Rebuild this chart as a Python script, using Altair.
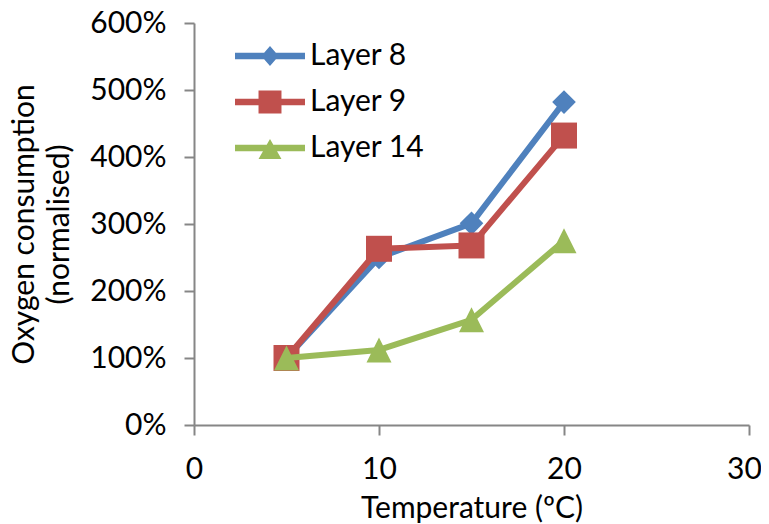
import altair as alt
import pandas as pd

# ---- data ----
temperature = [5, 10, 15, 20]
layer_names = ["Layer 8", "Layer 9", "Layer 14"]
layer8 = [100, 250, 301, 482]
layer9 = [100, 263, 268, 432]
layer14 = [100, 112, 157, 275]
colors = ["#4F81BD", "#C0504D", "#9BBB59"]
x_ticks = [0, 10, 20, 30]
y_ticks = [0, 100, 200, 300, 400, 500, 600]

rows = []
for name, vals in zip(layer_names, [layer8, layer9, layer14]):
    for t, v in zip(temperature, vals):
        rows.append({"layer": name, "temp": t, "value": v})
df = pd.DataFrame(rows)

FONT = "Lato"
GREY = "#868686"
FS = 30

# plot markers
marker_shapes = ["diamond", "square", "M0,-1L1,1L-1,1Z"]
marker_sizes = [560, 676, 625]

# legend symbols: line + marker as one path (scale: 14 px per unit)
LINE = "M-2.5,-0.23L2.5,-0.23L2.5,0.23L-2.5,0.23Z"
legend_paths = [
    LINE + "M-0.62,0L0,-0.72L0.62,0L0,0.72Z",
    LINE + "M-0.82,-0.82L0.82,-0.82L0.82,0.82L-0.82,0.82Z",
    LINE + "M0,-0.64L0.82,0.79L-0.82,0.79Z",
]

x_enc = alt.X(
    "temp:Q",
    scale=alt.Scale(domain=[0, 30], nice=False, zero=False),
    axis=alt.Axis(
        values=x_ticks, title="Temperature (ºC)", grid=False,
        domainColor=GREY, domainWidth=2, tickColor=GREY, tickWidth=2, tickSize=10,
        labelFont=FONT, labelFontSize=FS, labelColor="#000", labelPadding=19,
        labelFlush=False, labelOverlap=False,
        labelOffset={"condition": {"test": "datum.value == 30", "value": -5}, "value": 0},
        titleFont=FONT, titleFontSize=FS, titleFontWeight="normal", titleColor="#000",
        titleBaseline="alphabetic", titleY=92,
    ),
)
y_enc = alt.Y(
    "value:Q",
    scale=alt.Scale(domain=[0, 600], nice=False),
    axis=alt.Axis(
        values=y_ticks, labelExpr="datum.value + '%'", grid=False,
        title=["Oxygen consumption", "(normalised)"],
        domainColor=GREY, domainWidth=2, tickColor=GREY, tickWidth=2, tickSize=10,
        labelFont=FONT, labelFontSize=FS, labelColor="#000", labelPadding=18,
        labelOverlap=False, labelFlush=False,
        titleFont=FONT, titleFontSize=FS, titleFontWeight="normal", titleColor="#000",
        titleAngle=270, titleAlign="center", titleBaseline="alphabetic",
        titleX=-161, titleY=201, titleLineHeight=35,
    ),
)

base = alt.Chart(df)
layers = []
for name, col, shp, sz in zip(layer_names, colors, marker_shapes, marker_sizes):
    sub = base.transform_filter(alt.datum.layer == name)
    layers.append(
        sub.mark_line(color=col, strokeWidth=6, strokeJoin="round", strokeCap="round")
        .encode(x=x_enc, y=y_enc)
    )
    layers.append(
        sub.mark_point(filled=True, color=col, shape=shp, size=sz, opacity=1, strokeWidth=0)
        .encode(x=x_enc, y=y_enc)
    )

leg = alt.Legend(
    orient="none", legendX=61, legendY=18, title=None, padding=0,
    symbolSize=784, symbolStrokeWidth=0, symbolOpacity=1, symbolOffset=0,
    labelFont=FONT, labelFontSize=FS, labelColor="#000", labelOffset=25,
    rowPadding=16, labelLimit=0,
)
legend_layer = base.mark_point(filled=True, opacity=0, strokeWidth=0).encode(
    x=x_enc, y=y_enc,
    color=alt.Color("layer:N", scale=alt.Scale(domain=layer_names, range=colors), legend=leg),
    shape=alt.Shape("layer:N", scale=alt.Scale(domain=layer_names, range=legend_paths), legend=leg),
)
layers.append(legend_layer)

chart = (
    alt.layer(*layers)
    .properties(
        width=555, height=402,
        autosize=alt.AutoSizeParams(type="none"),
        padding={"left": 186, "top": 15, "right": 12, "bottom": 99},
        background="white",
    )
    .configure_view(stroke=None)
)

chart.save("out.html", embed_options={"renderer": "svg", "actions": False})
